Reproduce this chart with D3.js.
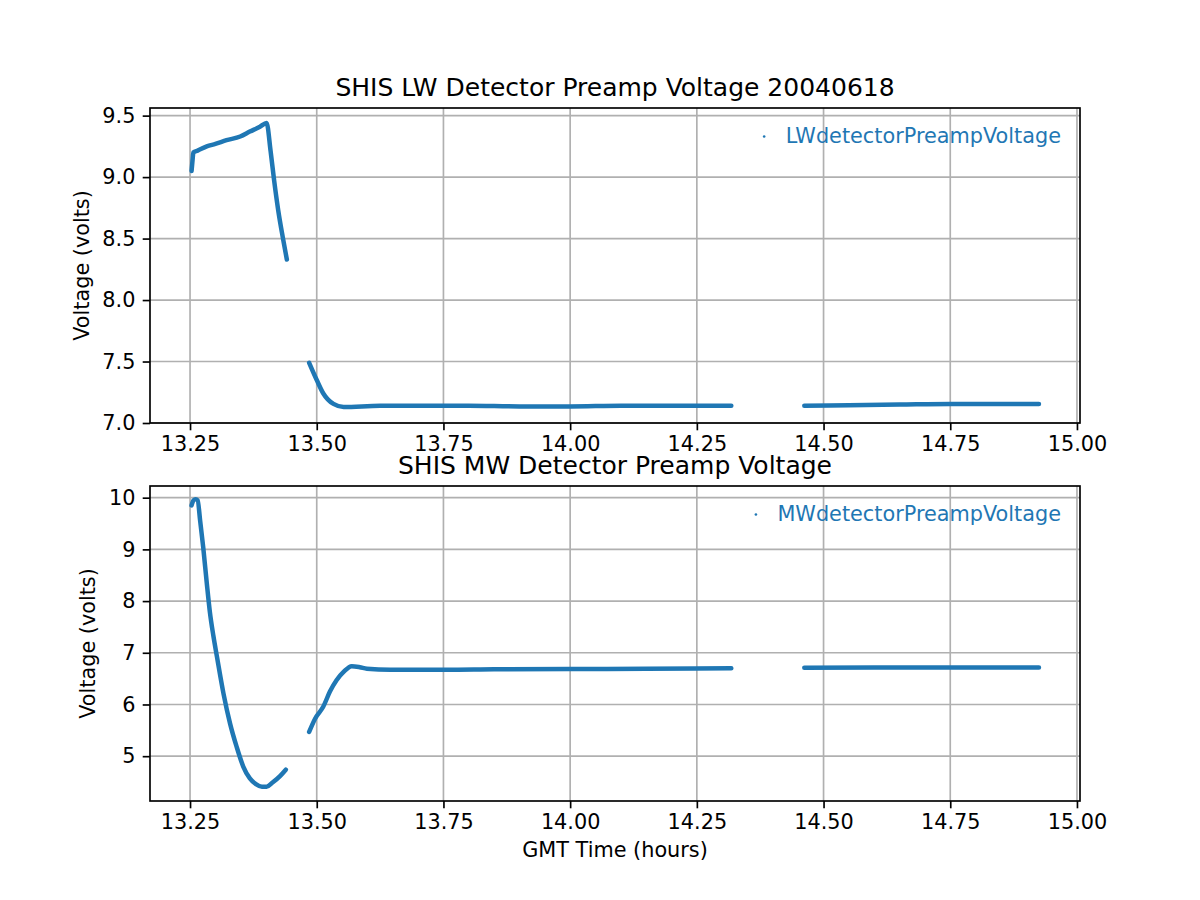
<!DOCTYPE html>
<html>
<head>
<meta charset="utf-8">
<script src="https://cdn.jsdelivr.net/npm/d3@7"></script>
<style>
  body { margin: 0; background: #fff; }
  text { font-family: "DejaVu Sans", sans-serif; }
</style>
</head>
<body>
<div id="chart"></div>
<script>
// GMT hours / volts, one array per continuous piece
const lwTime1 = [13.253, 13.255, 13.2565, 13.265, 13.283, 13.300, 13.322, 13.349, 13.368, 13.388, 13.401, 13.409, 13.416, 13.424, 13.433, 13.441];
const lwVolt1 = [9.05, 9.14, 9.20, 9.215, 9.25, 9.27, 9.30, 9.33, 9.37, 9.41, 9.44, 9.21, 8.97, 8.73, 8.51, 8.33];
const lwTime2 = [13.485, 13.500, 13.513, 13.533, 13.553, 13.625, 13.700, 13.800, 13.900, 14.000, 14.100, 14.200, 14.318];
const lwVolt2 = [7.49, 7.35, 7.24, 7.155, 7.13, 7.14, 7.14, 7.14, 7.135, 7.135, 7.14, 7.14, 7.14];
const lwTime3 = [14.462, 14.550, 14.650, 14.750, 14.850, 14.925];
const lwVolt3 = [7.14, 7.145, 7.15, 7.155, 7.155, 7.155];

const mwTime1 = [13.253, 13.257, 13.261, 13.265, 13.270, 13.276, 13.283, 13.289, 13.296, 13.303, 13.316, 13.329, 13.342, 13.355, 13.368, 13.380, 13.392, 13.401, 13.414, 13.428, 13.439];
const mwVolt1 = [9.85, 9.95, 9.97, 9.95, 9.55, 9.04, 8.35, 7.80, 7.33, 6.93, 6.21, 5.63, 5.18, 4.80, 4.57, 4.46, 4.41, 4.41, 4.50, 4.62, 4.74];
const mwTime2 = [13.485, 13.497, 13.513, 13.526, 13.539, 13.553, 13.569, 13.585, 13.599, 13.645, 13.756, 13.850, 14.000, 14.150, 14.318];
const mwVolt2 = [5.47, 5.73, 5.96, 6.25, 6.47, 6.63, 6.74, 6.72, 6.69, 6.67, 6.67, 6.68, 6.685, 6.69, 6.70];
const mwTime3 = [14.462, 14.600, 14.750, 14.925];
const mwVolt3 = [6.71, 6.715, 6.715, 6.715];

const xTicks = [13.25, 13.50, 13.75, 14.00, 14.25, 14.50, 14.75, 15.00];
const lwTicks = [7.0, 7.5, 8.0, 8.5, 9.0, 9.5];
const mwTicks = [5, 6, 7, 8, 9, 10];

const blue = "#1f77b4";
const left = 150, right = 1080, panelH = 315;

const svg = d3.select("#chart")
    .append("svg")
    .attr("width", 1200)
    .attr("height", 900);

let x = d3.scaleLinear()
    .domain([13.171, 15.006])
    .range([left, right]);

function pairs(t, v) {
    return t.map((d, i) => [d, v[i]]);
}

function drawPanel(p) {
    let y = d3.scaleLinear()
        .domain(p.yDomain)
        .range([p.top + panelH, p.top]);

    let g = svg.append("g");

    // grid
    g.selectAll("line.vgrid")
        .data(xTicks)
        .enter().append("line")
        .attr("x1", d => x(d)).attr("x2", d => x(d))
        .attr("y1", p.top).attr("y2", p.top + panelH)
        .attr("stroke", "#b0b0b0").attr("stroke-width", 1.67);
    g.selectAll("line.hgrid")
        .data(p.ticks)
        .enter().append("line")
        .attr("x1", left).attr("x2", right)
        .attr("y1", d => y(d)).attr("y2", d => y(d))
        .attr("stroke", "#b0b0b0").attr("stroke-width", 1.67);

    // data
    let line = d3.line().x(d => x(d[0])).y(d => y(d[1])).curve(d3.curveMonotoneX);
    g.selectAll("path.seg")
        .data(p.segments)
        .enter().append("path")
        .attr("d", line)
        .attr("fill", "none")
        .attr("stroke", blue)
        .attr("stroke-width", 4.5)
        .attr("stroke-linecap", "round")
        .attr("stroke-linejoin", "round");

    // axes
    let xAxis = g.append("g")
        .attr("transform", `translate(0,${p.top + panelH})`)
        .call(d3.axisBottom(x).tickValues(xTicks).tickFormat(d3.format(".2f"))
            .tickSizeOuter(0).tickSizeInner(7.3).tickPadding(6));
    let yAxis = g.append("g")
        .attr("transform", `translate(${left},0)`)
        .call(d3.axisLeft(y).tickValues(p.ticks).tickFormat(p.fmt)
            .tickSizeOuter(0).tickSizeInner(7.3).tickPadding(7.3));
    [xAxis, yAxis].forEach(a => {
        a.select(".domain").remove();
        a.selectAll(".tick line").attr("stroke", "#000").attr("stroke-width", 1.67);
        a.selectAll(".tick text").attr("fill", "#000")
            .style("font-size", "20.8px")
            .style("font-family", "'DejaVu Sans', sans-serif");
    });

    g.append("rect")
        .attr("x", left).attr("y", p.top)
        .attr("width", right - left).attr("height", panelH)
        .attr("fill", "none").attr("stroke", "#000").attr("stroke-width", 1.67);

    g.append("text")
        .attr("x", (left + right) / 2)
        .attr("y", p.top - 12.5)
        .attr("text-anchor", "middle")
        .style("font-size", "25px")
        .text(p.title);

    g.append("text")
        .attr("transform", `translate(${p.ylabelX},${p.top + panelH / 2}) rotate(-90)`)
        .attr("text-anchor", "middle")
        .style("font-size", "20.8px")
        .text("Voltage (volts)");

    // legend
    let lt = g.append("text")
        .attr("x", 1061)
        .attr("y", p.top + 35.3)
        .attr("text-anchor", "end")
        .attr("fill", blue)
        .style("font-size", "20.8px")
        .text(p.label);
    let w = lt.node().getComputedTextLength();
    g.append("circle")
        .attr("cx", 1061 - w - 21.5)
        .attr("cy", p.top + 28.5)
        .attr("r", 1.3)
        .attr("fill", blue);
}

drawPanel({
    top: 108,
    yDomain: [7.0, 9.562],
    ticks: lwTicks,
    fmt: d3.format(".1f"),
    title: "SHIS LW Detector Preamp Voltage 20040618",
    label: "LWdetectorPreampVoltage",
    ylabelX: 88.5,
    segments: [pairs(lwTime1, lwVolt1), pairs(lwTime2, lwVolt2), pairs(lwTime3, lwVolt3)]
});

drawPanel({
    top: 486,
    yDomain: [4.133, 10.226],
    ticks: mwTicks,
    fmt: d3.format("d"),
    title: "SHIS MW Detector Preamp Voltage",
    label: "MWdetectorPreampVoltage",
    ylabelX: 95,
    segments: [pairs(mwTime1, mwVolt1), pairs(mwTime2, mwVolt2), pairs(mwTime3, mwVolt3)]
});

svg.append("text")
    .attr("x", (left + right) / 2)
    .attr("y", 857)
    .attr("text-anchor", "middle")
    .style("font-size", "20.8px")
    .text("GMT Time (hours)");
</script>
</body>
</html>
